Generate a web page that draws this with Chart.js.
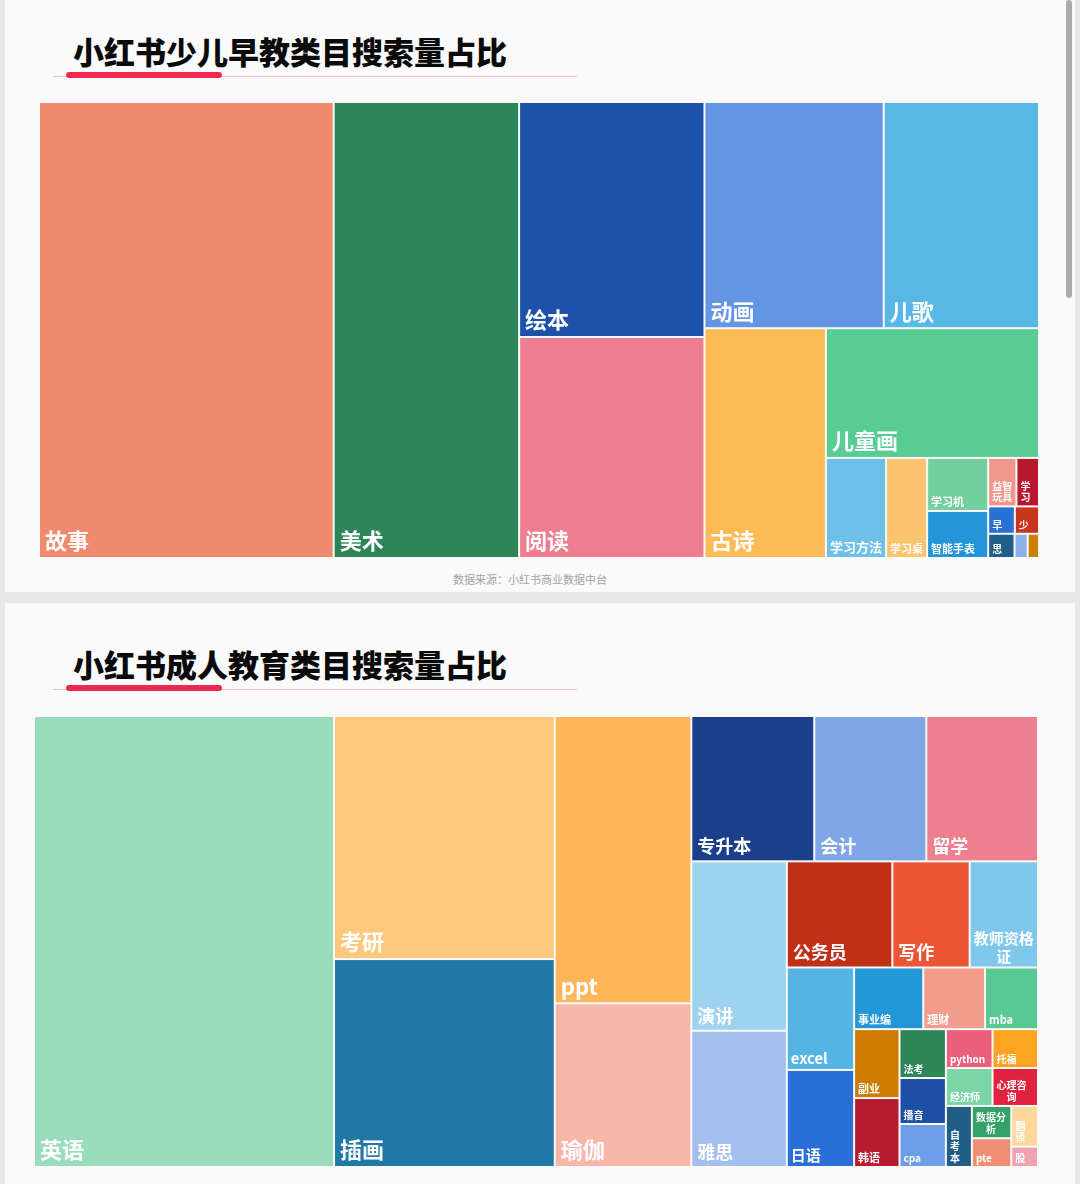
<!DOCTYPE html>
<html lang="zh-CN">
<head>
<meta charset="utf-8">
<title>小红书类目搜索量占比</title>
<script src="https://cdn.jsdelivr.net/npm/chart.js@4.4.1/dist/chart.umd.min.js"></script>
<style>
  html, body { margin: 0; padding: 0; }
  body {
    width: 1080px; height: 1184px; overflow: hidden; position: relative;
    background: #e8e8eb;
    font-family: "Noto Sans CJK SC", "Noto Sans", sans-serif;
  }
  .card { position: absolute; left: 5px; width: 1070px; background: #fafafa; }
  #card1 { top: -10px; height: 602px; }
  #card2 { top: 603px; height: 600px; }
  .title {
    position: absolute; left: 73px; font-size: 31px; line-height: 31px;
    font-weight: 900; color: #0a0a0a; white-space: nowrap;
  }
  .rule { position: absolute; left: 53px; width: 524px; height: 1px; background: #efc2cb; }
  .mark { position: absolute; left: 66px; width: 156px; height: 6px; border-radius: 3px; background: #ee2a50; }
  .source { position: absolute; left: 453px; top: 571px; font-size: 11px; color: #a3a3a3; white-space: nowrap; }
  .scroll { position: absolute; left: 1066px; top: 0; width: 6px; height: 298px; border-radius: 3px; background: #ababab; }
  canvas { position: absolute; }
  #kidChart { left: 39px; top: 102px; }
  #adultChart { left: 34px; top: 716px; }
</style>
</head>
<body>
<div class="card" id="card1"></div>
<div class="card" id="card2"></div>
<div class="scroll"></div>

<div class="title" style="top:35px">小红书少儿早教类目搜索量占比</div>
<div class="rule" style="top:76px"></div>
<div class="mark" style="top:72px"></div>
<canvas id="kidChart" width="1000" height="456"></canvas>
<div class="source">数据来源：小红书商业数据中台</div>

<div class="title" style="top:648px">小红书成人教育类目搜索量占比</div>
<div class="rule" style="top:689px"></div>
<div class="mark" style="top:685px"></div>
<canvas id="adultChart" width="1004" height="451"></canvas>

<script>
// 少儿早教 (搜索量占比 %, 估读)
const kidLabels = ['故事', '美术', '绘本', '阅读', '动画', '儿歌', '古诗', '儿童画', '学习方法', '学习桌',
  '学习机', '智能手表', '益智玩具', '学习', '早教', '少儿英语', '思维训练', '学具', '少儿编程'];
const kidValues = [29.46, 18.54, 9.55, 8.98, 8.89, 7.70, 6.12, 6.06, 1.32, 0.90,
  0.71, 0.63, 0.30, 0.24, 0.16, 0.145, 0.14, 0.07, 0.06];
const kidColors = ['#ef8a6f', '#2e8559', '#1e52a9', '#ee7e90', '#6494e4', '#58b7e5', '#fdbb58', '#58cc93', '#6ec0ea', '#fdc46f',
  '#74cf9f', '#2395d8', '#f0968a', '#b8172f', '#2a6fd2', '#c9341c', '#1f5f89', '#8db1ea', '#cc8000'];

// 成人教育 (搜索量占比 %, 估读)
const adultLabels = ['英语', '考研', '插画', 'ppt', '瑜伽', '专升本', '会计', '留学', '演讲', '雅思',
  '公务员', '写作', '教师资格证', 'excel', '日语', '事业编', '理财', 'mba', '副业', '韩语',
  '法考', '播音', 'cpa', 'python', '托福', '经济师', '心理咨询', '自考本', '数据分析', 'pte', '翻译', '股票'];
const adultValues = [29.84, 11.83, 10.12, 8.65, 4.93, 3.94, 3.59, 3.58, 3.57, 2.87,
  2.47, 1.81, 1.60, 1.52, 1.44, 0.94, 0.84, 0.72, 0.69, 0.69,
  0.50, 0.47, 0.44, 0.40, 0.39, 0.39, 0.38, 0.35, 0.28, 0.25, 0.24, 0.12];
const adultColors = ['#9addbd', '#fec97c', '#1f78a6', '#fdb759', '#f8b6a8', '#1c3f89', '#7fa6e4', '#ee7f8f', '#9ed3f0', '#a3bfee',
  '#c03019', '#ec5533', '#7ec8ec', '#56b4e4', '#2a6fd8', '#2396d6', '#f19c8c', '#58c994', '#cc7c00', '#b81a30',
  '#2e8558', '#1d4fa8', '#6e9ee8', '#ec5f7b', '#fda422', '#7dd4a7', '#e0223f', '#1f5f86', '#35a368', '#f18e76', '#fdd89a', '#f2a1b1'];

// preferred width/height of a cell
const CELL_RATIO = 0.805;

// worst aspect ratio of a row, measured against CELL_RATIO
function worst(row, side, column) {
  const sum = row.reduce((s, it) => s + it.a, 0);
  const thick = sum / side;
  let m = 0;
  row.forEach(it => {
    const len = it.a / thick;
    const asp = column ? thick / len : len / thick;
    m = Math.max(m, asp / CELL_RATIO, CELL_RATIO / asp);
  });
  return m;
}

function placeRow(row, free, column, cells, last) {
  const sum = row.reduce((s, it) => s + it.a, 0);
  const side = column ? free.h : free.w;
  const thick = last ? (column ? free.w : free.h) : sum / side;
  const end = column ? free.y + free.h : free.x + free.w;
  let pos = column ? free.y : free.x;
  row.forEach((it, j) => {
    const len = j === row.length - 1 ? end - pos : it.a / sum * side;
    if (column) cells.push({ i: it.i, x: free.x, y: pos, w: thick, h: len });
    else cells.push({ i: it.i, x: pos, y: free.y, w: len, h: thick });
    pos += len;
  });
  if (column) { free.x += thick; free.w -= thick; }
  else { free.y += thick; free.h -= thick; }
}

// squarified layout
function squarify(values, box) {
  const total = values.reduce((a, b) => a + b, 0);
  const k = box.w * box.h / total;
  const items = values.map((v, i) => ({ i, a: v * k })).sort((p, q) => q.a - p.a);
  const cells = [];
  const free = Object.assign({}, box);
  let row = [], best = Infinity, n = 0;
  while (n < items.length) {
    const column = free.w > free.h;
    const side = column ? free.h : free.w;
    const next = row.concat(items[n]);
    const score = worst(next, side, column);
    if (!row.length || score <= best) {
      row = next; best = score; n++;
    } else {
      placeRow(row, free, column, cells, false);
      row = []; best = Infinity;
    }
  }
  if (row.length) placeRow(row, free, free.w > free.h, cells, true);
  return cells;
}

function labelFont(size) {
  return 'bold ' + size + 'px "Noto Sans CJK SC", "Noto Sans", sans-serif';
}

function drawLabel(ctx, text, r) {
  const s = Math.sqrt(r.w * r.h);
  let size = s >= 145 ? 22 : s >= 85 ? 18 : s >= 75 ? 15 : s >= 50 ? 11 : 10;
  const pad = size >= 18 ? 5 : 3;
  const maxW = r.w - pad * 2;
  const maxH = r.h - pad * 2;
  const chars = Array.from(text).length;
  // keep up to four characters on one line before wrapping
  size = Math.max(10, Math.min(size, maxW / Math.min(chars, 4)));
  ctx.font = labelFont(size);
  let lines = [text];
  if (ctx.measureText(text).width > maxW) {
    lines = [];
    let cur = '';
    for (const ch of text) {
      if (cur && ctx.measureText(cur + ch).width > maxW) { lines.push(cur); cur = ch; }
      else cur += ch;
    }
    if (cur) lines.push(cur);
  }
  const lh = size * 1.15;
  const maxLines = Math.floor((maxH + lh - size) / lh);
  if (maxLines < 1 || ctx.measureText(lines[0][0]).width > r.w - 2) return;
  if (lines.length > maxLines) {
    lines = lines.slice(0, maxLines);
    const l = lines[maxLines - 1];
    lines[maxLines - 1] = l.length > 1 ? l.slice(0, -1) + '…' : l;
  }
  const blockW = Math.max(...lines.map(l => ctx.measureText(l).width));
  const x0 = r.x + Math.max(1, Math.min(pad, (r.w - blockW) / 2));
  ctx.fillStyle = '#ffffff';
  ctx.textBaseline = 'middle';
  ctx.textAlign = 'center';
  lines.forEach((l, j) => {
    const up = lines.length - 1 - j;
    const cy = r.y + r.h - pad - size / 2 - up * lh;
    const cx = lines.length > 1 ? x0 + blockW / 2 : x0 + ctx.measureText(l).width / 2;
    ctx.fillText(l, cx, cy);
  });
}

function treemapPlugin(labels, values, colors) {
  return {
    id: 'treemapCells',
    afterDatasetsDraw(chart) {
      const { ctx } = chart;
      const xs = chart.scales.x, ys = chart.scales.y;
      const left = xs.getPixelForValue(0), right = xs.getPixelForValue(100);
      const top = ys.getPixelForValue(100), bottom = ys.getPixelForValue(0);
      const cells = squarify(values, { x: left, y: top, w: right - left, h: bottom - top });
      ctx.save();
      cells.forEach(c => {
        ctx.fillStyle = colors[c.i];
        ctx.fillRect(c.x + 1, c.y + 1, c.w - 2, c.h - 2);
      });
      cells.forEach(c => {
        drawLabel(ctx, labels[c.i], { x: c.x + 1, y: c.y + 1, w: c.w - 2, h: c.h - 2 });
      });
      ctx.restore();
    }
  };
}

function makeTreemap(id, labels, values, colors) {
  return new Chart(document.getElementById(id), {
    type: 'scatter',
    data: { datasets: [] },
    options: {
      responsive: false,
      animation: false,
      layout: { padding: 0 },
      plugins: { legend: { display: false }, tooltip: { enabled: false } },
      scales: {
        x: { type: 'linear', min: 0, max: 100, display: false },
        y: { type: 'linear', min: 0, max: 100, display: false }
      }
    },
    plugins: [treemapPlugin(labels, values, colors)]
  });
}

makeTreemap('kidChart', kidLabels, kidValues, kidColors);
makeTreemap('adultChart', adultLabels, adultValues, adultColors);
</script>
</body>
</html>
